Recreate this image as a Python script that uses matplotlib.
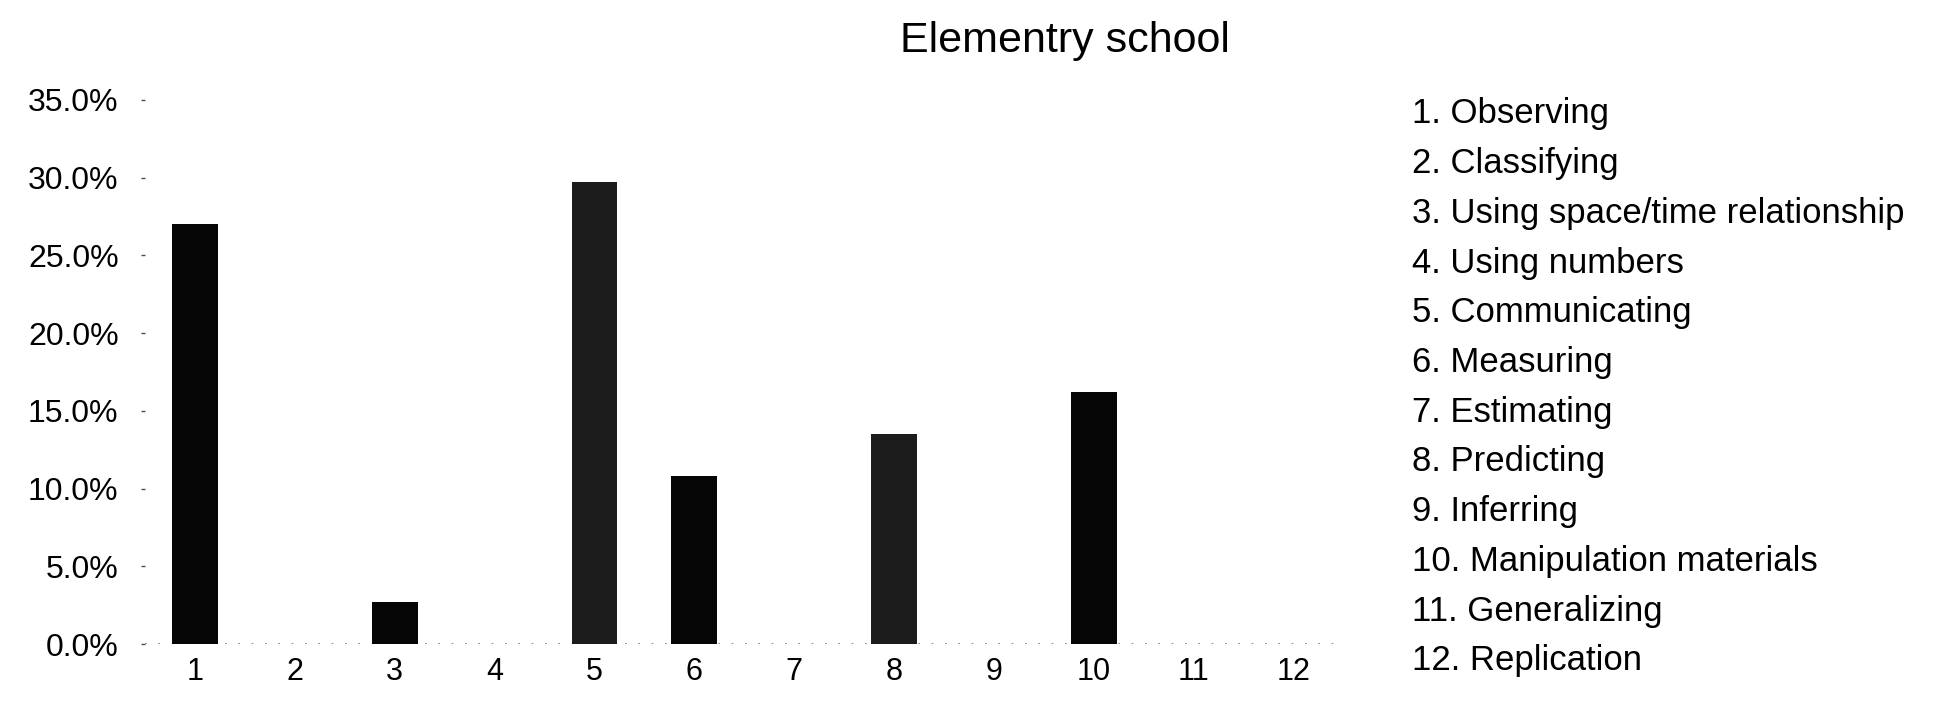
import numpy as np
import matplotlib
matplotlib.use("Agg")
import matplotlib.pyplot as plt
from matplotlib.ticker import PercentFormatter

plt.rcParams['font.family'] = ['Liberation Sans', 'DejaVu Sans']

# share of each science process skill (%)
skills = ["Observing", "Classifying", "Using space/time relationship",
          "Using numbers", "Communicating", "Measuring", "Estimating",
          "Predicting", "Inferring", "Manipulation materials",
          "Generalizing", "Replication"]
codes = list(range(1, 13))
shares = [27.0, 0.0, 2.7, 0.0, 29.7, 10.8, 0.0, 13.5, 0.0, 16.2, 0.0, 0.0]
title = "Elementry school"

fig = plt.figure(figsize=(19.43, 7.23), dpi=100)
ax = fig.add_axes([0.0746, 0.109, 0.617, 0.753])

colors = ['#050505' if c not in (5, 8) else '#1c1c1c' for c in codes]
ax.bar(codes, shares, width=0.46, color=colors, edgecolor='none', zorder=2)
ax.axhline(0, color='0.45', lw=1.2, ls=(0, (1, 7)), zorder=1)

ax.set_xlim(0.5, 12.5)
ax.set_ylim(0, 35)
ax.set_yticks(np.arange(0, 36, 5))
ax.yaxis.set_major_formatter(PercentFormatter(decimals=1))
ax.set_xticks(codes)
ax.set_xticklabels([str(c) for c in codes])
ax.tick_params(axis='y', length=3, width=1, color='0.3', pad=16, labelsize=23)
ax.tick_params(axis='x', length=0, pad=9, labelsize=22)
for s in ax.spines.values():
    s.set_visible(False)

fig.text(0.548, 0.943, title, fontsize=31, ha='center', va='center')

# numbered key on the right
y0 = 1 - 114 / 723
dy = 49.7 / 723
for i, name in enumerate(skills):
    fig.text(0.7267, y0 - i * dy, f"{i + 1}. {name}", fontsize=25,
             ha='left', va='center')

fig.savefig("out.png", dpi=100, facecolor='white')
